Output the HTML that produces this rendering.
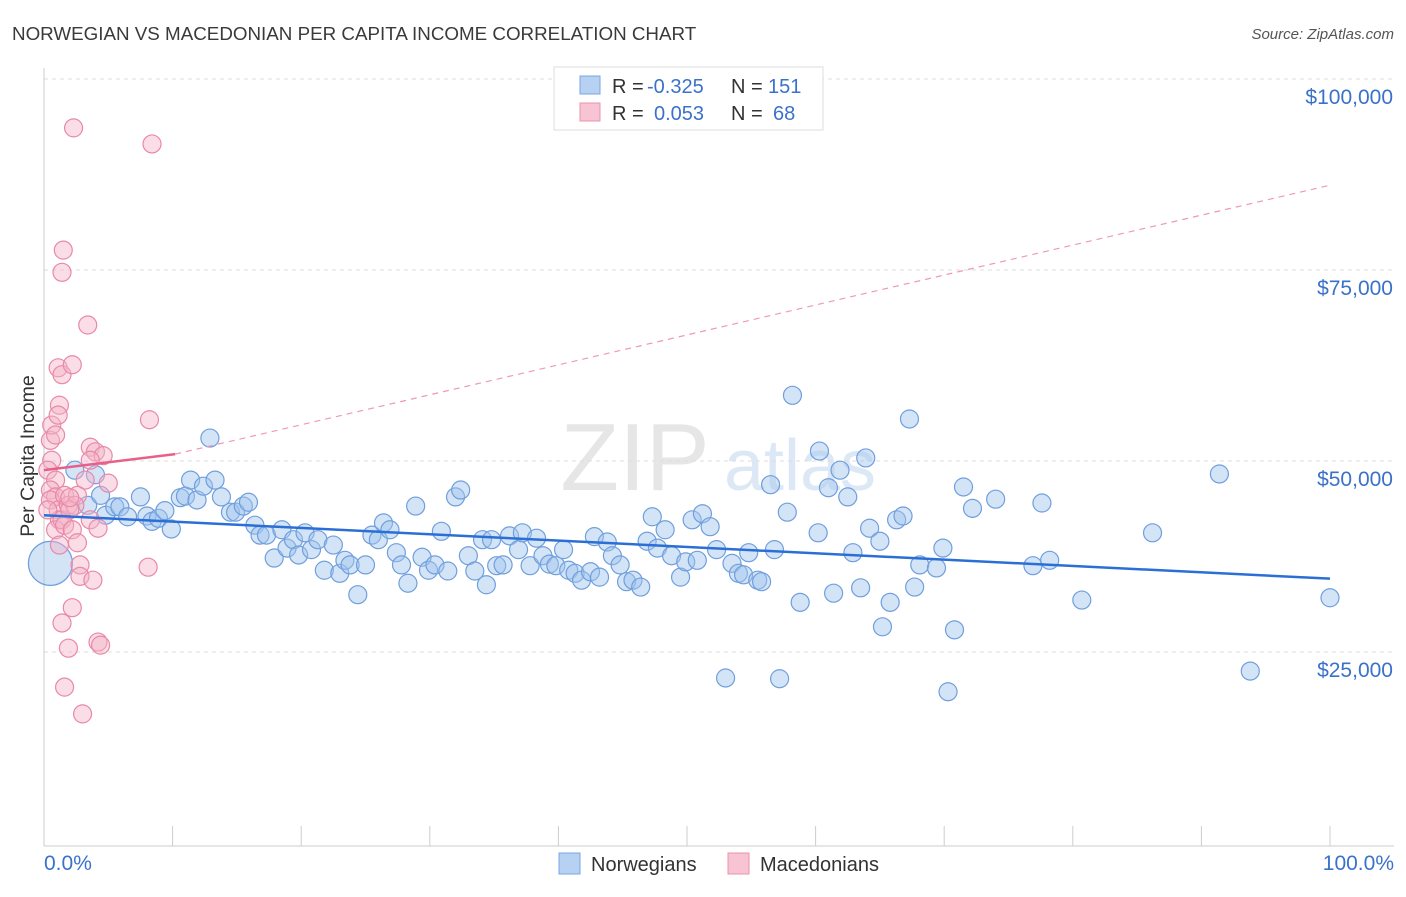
<!DOCTYPE html>
<html><head><meta charset="utf-8">
<style>
body{margin:0;background:#fff;font-family:"Liberation Sans",sans-serif;}
svg text{font-family:"Liberation Sans",sans-serif;}
</style></head>
<body>
<svg id="chart" width="1406" height="892" xmlns="http://www.w3.org/2000/svg">
<text x="12" y="40" font-size="18.8" fill="#3a3a3a">NORWEGIAN VS MACEDONIAN PER CAPITA INCOME CORRELATION CHART</text>
<text x="1394" y="39" font-size="15" fill="#555" text-anchor="end" font-style="italic">Source: ZipAtlas.com</text>
<text x="635" y="490" font-size="96" fill="#e6e6e6" font-family="Liberation Serif" text-anchor="middle">ZIP</text>
<text x="800" y="490" font-size="72" fill="#dde8f6" text-anchor="middle">atlas</text>
<g id="grid"></g>
<g id="axes"></g>
<g id="pts"></g>
<g id="trends"></g>
<text x="34" y="456" font-size="19.5" fill="#333" text-anchor="middle" transform="rotate(-90 34 456)">Per Capita Income</text>
<g>
<rect x="554" y="67" width="269" height="63" fill="#fff" stroke="#ddd"/>
<rect x="580" y="76" width="20" height="18" fill="#b7d1f2" stroke="#7aa6e0"/>
<rect x="580" y="103" width="20" height="18" fill="#f8c3d3" stroke="#ea90ad"/>
<text x="612" y="93" font-size="20" fill="#333">R =</text>
<text x="647" y="93" font-size="20" fill="#3b72c9">-0.325</text>
<text x="731" y="93" font-size="20" fill="#333">N =</text>
<text x="768" y="93" font-size="20" fill="#3b72c9">151</text>
<text x="612" y="120" font-size="20" fill="#333">R =</text>
<text x="654" y="120" font-size="20" fill="#3b72c9">0.053</text>
<text x="731" y="120" font-size="20" fill="#333">N =</text>
<text x="773" y="120" font-size="20" fill="#3b72c9">68</text>
</g>
<g>
<rect x="559" y="853" width="21" height="21" fill="#b7d1f2" stroke="#7aa6e0"/>
<text x="591" y="871" font-size="20" fill="#333">Norwegians</text>
<rect x="728" y="853" width="21" height="21" fill="#f8c3d3" stroke="#ea90ad"/>
<text x="760" y="871" font-size="20" fill="#333">Macedonians</text>
</g>
</svg>
<script>
const yTicks=[25,50,75,100];
const yTickLabels=["$25,000","$50,000","$75,000","$100,000"];
const xTickLabels=["0.0%","100.0%"];
const blueX=[0.5,2.4,3.4,4.0,4.4,4.8,5.5,5.9,6.5,7.5,8.0,8.4,8.9,9.4,9.9,10.6,11.0,11.4,11.9,12.4,12.9,13.3,13.8,14.5,14.9,15.5,15.9,16.4,16.8,17.3,17.9,18.5,18.9,19.4,19.8,20.3,20.8,21.3,21.8,22.5,23.0,23.4,23.8,24.4,25.0,25.5,26.0,26.4,26.9,27.4,27.8,28.3,28.9,29.4,29.9,30.4,30.9,31.4,32.0,32.4,33.0,33.5,34.1,34.4,34.8,35.2,35.7,36.2,36.9,37.2,37.8,38.3,38.8,39.3,39.8,40.4,40.8,41.3,41.8,42.5,42.8,43.2,43.8,44.2,44.8,45.3,45.8,46.4,46.9,47.3,47.7,48.3,48.8,49.5,49.9,50.4,50.8,51.2,51.8,52.3,53.0,53.5,54.0,54.4,54.8,55.5,55.8,56.5,56.8,57.2,57.8,58.2,58.8,60.2,60.3,61.0,61.4,61.9,62.5,62.9,63.5,63.9,64.2,65.2,65.0,65.8,66.3,66.8,67.3,67.7,68.1,69.4,69.9,70.3,70.8,71.5,72.2,74.0,76.9,77.6,78.2,80.7,86.2,91.4,93.8,100.0];
const blueY=[36.6,48.8,44.2,48.2,45.5,42.9,44.0,44.0,42.7,45.3,42.8,42.1,42.5,43.5,41.1,45.2,45.4,47.5,44.9,46.7,53.0,47.5,45.3,43.3,43.3,44.1,44.6,41.6,40.3,40.3,37.3,41.0,38.6,39.7,37.7,40.6,38.4,39.7,35.7,39.0,35.3,37.0,36.4,32.5,36.4,40.3,39.7,41.9,41.0,38.0,36.4,34.0,44.1,37.4,35.7,36.4,40.8,35.6,45.3,46.2,37.6,35.6,39.7,33.8,39.7,36.3,36.4,40.2,38.4,40.6,36.3,39.9,37.6,36.5,36.3,38.4,35.7,35.3,34.4,35.5,40.1,34.8,39.4,37.6,36.4,34.2,34.4,33.5,39.5,42.7,38.6,41.0,37.6,34.8,36.8,42.3,37.0,43.1,41.4,38.4,21.6,36.6,35.3,35.1,38.0,34.4,34.2,46.9,38.4,21.5,43.3,58.6,31.5,40.6,51.3,46.5,32.7,48.8,45.3,38.0,33.4,50.4,41.2,28.3,39.5,31.5,42.3,42.8,55.5,33.5,36.4,36.0,38.6,19.8,27.9,46.6,43.8,45.0,36.3,44.5,37.0,31.8,40.6,48.3,22.5,32.1];
const pinkX=[0.5,0.6,0.9,0.6,0.3,0.9,0.5,0.9,0.5,1.1,1.2,0.9,1.4,1.6,1.9,1.2,1.1,1.4,2.2,1.2,1.1,1.4,1.5,2.3,8.4,3.4,8.2,3.6,4.0,4.6,3.6,3.2,5.0,2.6,2.4,2.0,1.6,2.2,3.6,4.2,2.6,2.8,2.8,3.8,8.1,2.2,1.4,1.9,4.2,4.4,1.6,3.0,0.3,2.0];
const pinkY=[52.7,54.7,53.4,50.1,48.8,47.5,46.2,45.3,44.9,43.6,42.3,41.0,42.3,45.5,44.2,39.0,62.2,61.3,62.6,57.3,56.0,74.7,77.6,93.6,91.5,67.8,55.4,51.8,51.2,50.7,50.1,47.5,47.1,45.5,44.2,43.6,41.6,41.0,42.3,41.2,39.3,36.4,34.9,34.4,36.1,30.8,28.8,25.5,26.3,25.9,20.4,16.9,43.6,45.2];
const blueTrend=[[0,42.9],[100,34.6]];
const pinkTrendSolid=[[0,48.8],[10.2,50.9]];
const pinkTrendDash=[[10.2,50.9],[100,86.1]];

const X0=44,X1=1330,Y0=843,YS=191/25;
const sx=v=>X0+(X1-X0)*v/100;
const sy=v=>Y0-v*YS;
const NS="http://www.w3.org/2000/svg";
function mk(tag,attrs,parent){const e=document.createElementNS(NS,tag);for(const k in attrs)e.setAttribute(k,attrs[k]);parent.appendChild(e);return e;}
const grid=document.getElementById('grid'),axes=document.getElementById('axes'),pts=document.getElementById('pts'),tr=document.getElementById('trends');
yTicks.forEach((t,i)=>{
  const l=mk('line',{x1:X0,x2:1394,y1:sy(t),y2:sy(t),stroke:'#ddd','stroke-dasharray':'4,4'},grid);
  
  
  const tx=mk('text',{x:1393,y:sy(t)+25,'font-size':21,fill:'#3b72c9','text-anchor':'end'},axes);
  tx.textContent=yTickLabels[i];
  
  
});
const ax=mk('line',{x1:X0,x2:X0,y1:68,y2:846,stroke:'#ccc'},axes);


const bx=mk('line',{x1:X0,x2:1394,y1:846,y2:846,stroke:'#ccc'},axes);


for(let i=0;i<=10;i++){
  const t=mk('line',{x1:sx(i*10),x2:sx(i*10),y1:826,y2:846,stroke:'#ccc'},axes);
  
  
}
const xl0=mk('text',{x:44,y:870,'font-size':21,fill:'#3b72c9'},axes);xl0.textContent=xTickLabels[0];


const xl1=mk('text',{x:1394,y:870,'font-size':21,fill:'#3b72c9','text-anchor':'end'},axes);xl1.textContent=xTickLabels[1];


blueX.forEach((v,i)=>{
  const c=mk('circle',{cx:sx(v),cy:sy(blueY[i]),r:i===0?22:9,fill:'rgba(160,195,238,0.45)',stroke:'#6f9fdd','stroke-width':1.2},pts);
  
  
});
pinkX.forEach((v,i)=>{
  const c=mk('circle',{cx:sx(v),cy:sy(pinkY[i]),r:9,fill:'rgba(245,180,200,0.45)',stroke:'#e889a8','stroke-width':1.2},pts);
  
  
});
const b=mk('line',{x1:sx(blueTrend[0][0]),y1:sy(blueTrend[0][1]),x2:sx(blueTrend[1][0]),y2:sy(blueTrend[1][1]),stroke:'#2b6fd6','stroke-width':2.5},tr);


const pd=mk('line',{x1:sx(pinkTrendDash[0][0]),y1:sy(pinkTrendDash[0][1]),x2:sx(pinkTrendDash[1][0]),y2:sy(pinkTrendDash[1][1]),stroke:'#ee9ab5','stroke-width':1.2,'stroke-dasharray':'6,5'},tr);


const ps=mk('line',{x1:sx(pinkTrendSolid[0][0]),y1:sy(pinkTrendSolid[0][1]),x2:sx(pinkTrendSolid[1][0]),y2:sy(pinkTrendSolid[1][1]),stroke:'#e8608a','stroke-width':2.5},tr);


</script>
</body></html>
